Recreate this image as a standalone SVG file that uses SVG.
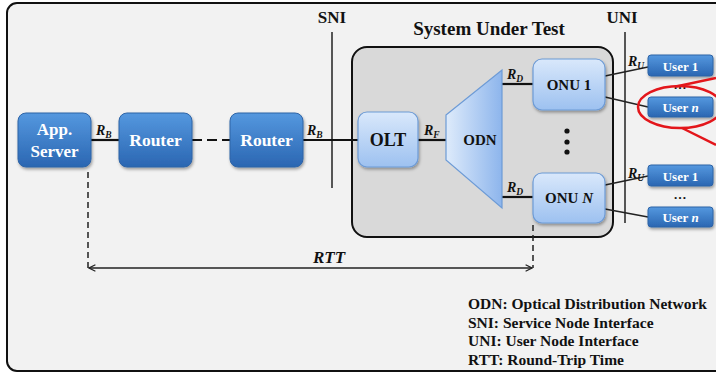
<svg xmlns="http://www.w3.org/2000/svg" width="716" height="373" viewBox="0 0 716 373">
<defs>
<linearGradient id="gDark" x1="0" y1="0" x2="0" y2="1">
<stop offset="0" stop-color="#5598df"/><stop offset="1" stop-color="#2a66b2"/>
</linearGradient>
<linearGradient id="gLight" x1="0" y1="0" x2="0" y2="1">
<stop offset="0" stop-color="#d9e8fb"/><stop offset="1" stop-color="#9dc1f0"/>
</linearGradient>
<linearGradient id="gOdn" x1="0" y1="0" x2="1" y2="0">
<stop offset="0" stop-color="#deebfb"/><stop offset="1" stop-color="#8db5ec"/>
</linearGradient>
<filter id="sh" x="-20%" y="-20%" width="140%" height="150%">
<feDropShadow dx="1" dy="2" stdDeviation="1.5" flood-color="#000" flood-opacity="0.35"/>
</filter>
<marker id="arr" viewBox="0 0 10 10" refX="9" refY="5" markerWidth="8" markerHeight="8" orient="auto-start-reverse" markerUnits="userSpaceOnUse">
<path d="M1,1 L9,5 L1,9" fill="none" stroke="#222" stroke-width="1.5"/>
</marker>
</defs>
<style>
text{font-family:"Liberation Serif","Times New Roman",serif;font-weight:bold}
.dark{fill:url(#gDark);stroke:#2f64a6;stroke-width:1;filter:url(#sh)}
.light{fill:url(#gLight);stroke:#6d9bd6;stroke-width:1.2;filter:url(#sh)}
.wt{fill:#fff;text-anchor:middle}
.bt{fill:#111;text-anchor:middle}
.ln{stroke:#111;stroke-width:2.2;fill:none}
.thin{stroke:#222;stroke-width:1.5;fill:none}
.lbl{font-style:italic;font-size:14px;fill:#111}
.sub{font-size:9.5px}
.leg{font-size:15.5px;fill:#111}
</style>
<rect x="7" y="3" width="740" height="368" rx="10" fill="#f2f2f2" stroke="#111" stroke-width="2"/>

<g id="sut">
<rect x="352" y="47" width="261" height="190" rx="15" fill="#d9d9d9" stroke="#111" stroke-width="2"/>
<text x="489" y="35" font-size="19" class="bt">System Under Test</text>
</g>

<g id="interfaces">
<line x1="332" y1="32" x2="332" y2="188" class="thin"/>
<text x="332" y="23" font-size="17" class="bt">SNI</text>
<line x1="625" y1="32" x2="625" y2="223" class="thin"/>
<text x="622" y="23" font-size="17" class="bt">UNI</text>
</g>

<g id="connectors">
<line x1="91" y1="140" x2="119" y2="140" class="ln"/>
<line x1="192" y1="140" x2="230" y2="140" class="ln" stroke-width="3" stroke-dasharray="10,5"/>
<line x1="303" y1="140" x2="358" y2="140" class="ln"/>
<line x1="418" y1="140" x2="446" y2="140" class="ln"/>
<line x1="502" y1="84" x2="533" y2="84" class="ln"/>
<line x1="502" y1="197" x2="533" y2="197" class="ln"/>
<line x1="605" y1="76" x2="648" y2="67" class="thin"/>
<line x1="605" y1="97" x2="648" y2="107" class="thin"/>
<line x1="605" y1="185" x2="648" y2="176" class="thin"/>
<line x1="605" y1="209" x2="648" y2="217" class="thin"/>
<line x1="88" y1="172" x2="88" y2="268" class="thin" stroke-dasharray="6,4"/>
<line x1="533" y1="225" x2="533" y2="268" class="thin" stroke-dasharray="6,4"/>
<line x1="89" y1="268" x2="532" y2="268" class="thin" marker-start="url(#arr)" marker-end="url(#arr)"/>
<text x="329" y="263" font-size="17" font-style="italic" class="bt">RTT</text>
<text x="96" y="135" class="lbl">R<tspan class="sub" dy="3">B</tspan></text>
<text x="307" y="135" class="lbl">R<tspan class="sub" dy="3">B</tspan></text>
<text x="424" y="135" class="lbl">R<tspan class="sub" dy="3">F</tspan></text>
<text x="507" y="79" class="lbl">R<tspan class="sub" dy="3">D</tspan></text>
<text x="507" y="192" class="lbl">R<tspan class="sub" dy="3">D</tspan></text>
<text x="628" y="66" class="lbl">R<tspan class="sub" dy="3">U</tspan></text>
<text x="628" y="178" class="lbl">R<tspan class="sub" dy="3">U</tspan></text>
</g>

<g id="app-server">
<rect x="18" y="113" width="73" height="54" rx="8" class="dark"/>
<text x="54.5" y="135" font-size="17" class="wt">App.</text>
<text x="54.5" y="157" font-size="17" class="wt">Server</text>
</g>
<g id="router1">
<rect x="119" y="113" width="73" height="54" rx="8" class="dark"/>
<text x="155.5" y="146" font-size="17.5" class="wt">Router</text>
</g>
<g id="router2">
<rect x="230" y="113" width="73" height="54" rx="8" class="dark"/>
<text x="266.5" y="146" font-size="17.5" class="wt">Router</text>
</g>
<g id="olt">
<rect x="358" y="112" width="60" height="55" rx="9" class="light"/>
<text x="388" y="146" font-size="18" class="bt">OLT</text>
</g>
<g id="odn">
<polygon points="446,115 502,70 502,208 446,160" fill="url(#gOdn)" stroke="#6d9bd6" stroke-width="1.2"/>
<text x="480" y="145" font-size="15" class="bt">ODN</text>
</g>
<g id="onu1">
<rect x="533" y="59" width="72" height="51" rx="9" class="light"/>
<text x="569" y="90" font-size="15" class="bt">ONU 1</text>
</g>
<g id="onu-dots">
<circle cx="567" cy="131" r="2.6" fill="#111"/>
<circle cx="567" cy="142" r="2.6" fill="#111"/>
<circle cx="567" cy="152" r="2.6" fill="#111"/>
</g>
<g id="onuN">
<rect x="533" y="173" width="72" height="50" rx="9" class="light"/>
<text x="569" y="203" font-size="15" class="bt">ONU <tspan font-style="italic">N</tspan></text>
</g>

<g id="user1a">
<rect x="648" y="55" width="65" height="21" rx="3" class="dark"/>
<text x="680.5" y="71" font-size="13" class="wt">User 1</text>
</g>
<text x="680" y="89" font-size="13" class="bt">…</text>
<g id="userna">
<rect x="648" y="97" width="65" height="20" rx="3" class="dark"/>
<text x="680.5" y="112" font-size="13" class="wt">User <tspan font-style="italic">n</tspan></text>
</g>
<g id="user1b">
<rect x="648" y="165" width="65" height="21" rx="3" class="dark"/>
<text x="680.5" y="181" font-size="13" class="wt">User 1</text>
</g>
<text x="680" y="199" font-size="13" class="bt">…</text>
<g id="usernb">
<rect x="648" y="207" width="65" height="20" rx="3" class="dark"/>
<text x="680.5" y="222" font-size="13" class="wt">User <tspan font-style="italic">n</tspan></text>
</g>

<g id="highlight" fill="none" stroke="#e3161b" stroke-width="2.5">
<ellipse cx="680" cy="107" rx="42" ry="21"/>
<line x1="676" y1="86.5" x2="716" y2="78"/>
<line x1="682" y1="128" x2="716" y2="145"/>
</g>

<g id="legend">
<text x="468" y="309" class="leg">ODN: Optical Distribution Network</text>
<text x="468" y="328" class="leg">SNI: Service Node Interface</text>
<text x="468" y="346" class="leg">UNI: User Node Interface</text>
<text x="468" y="365" class="leg">RTT: Round-Trip Time</text>
</g>
</svg>
